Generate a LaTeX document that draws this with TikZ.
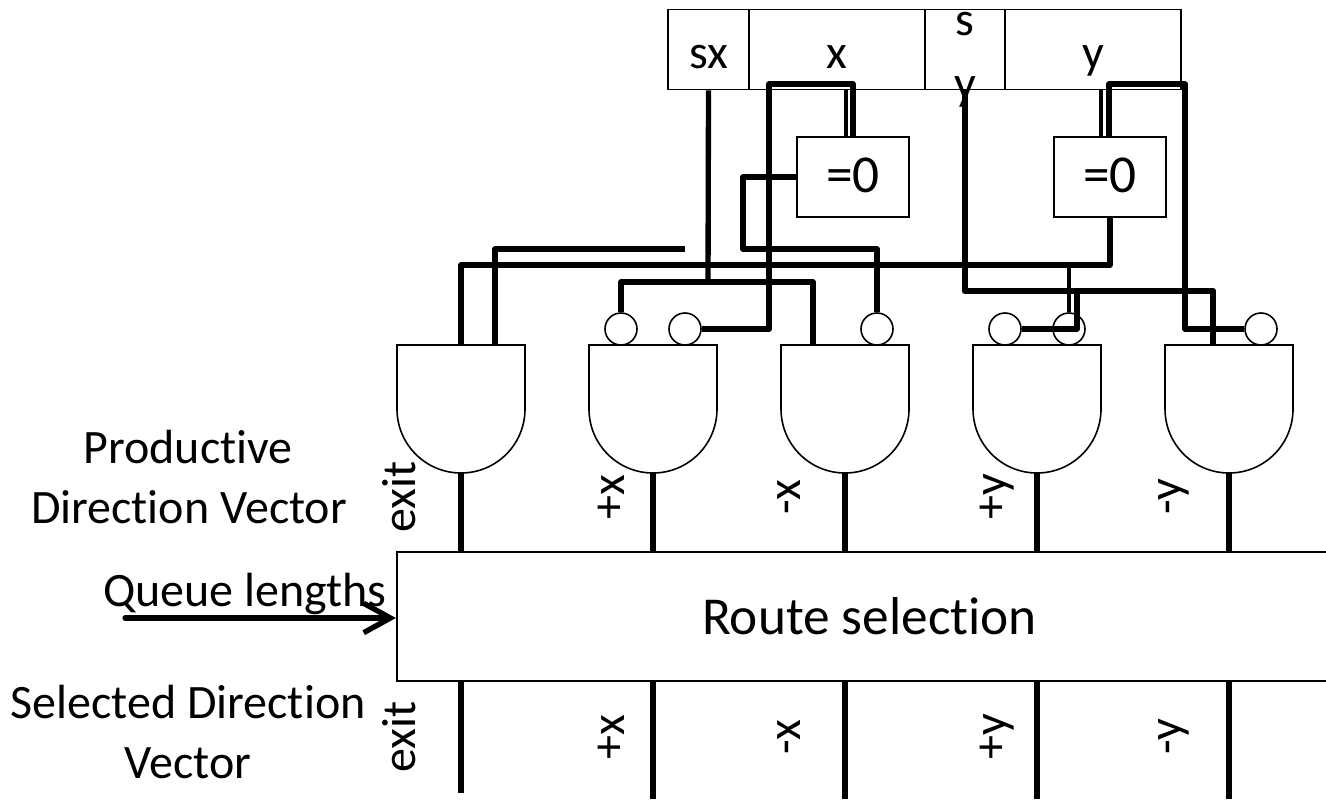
\documentclass[tikz,border=0pt]{standalone}
\usepackage{fontspec}
\setmainfont[Ligatures=NoCommon]{Carlito}
\usetikzlibrary{arrows.meta}
\tikzset{
  field/.style={draw,line width=1.4pt,minimum height=60pt,inner sep=0pt},
  zerobox/.style={draw,line width=1.4pt,minimum width=84pt,minimum height=60pt,inner sep=0pt,text depth=3pt,font=\fontsize{40}{45}\selectfont},
  bubble/.style={draw,circle,line width=1.2pt,minimum size=24pt,inner sep=0pt},
  wire/.style={line width=4pt,line join=round},
  thinwire/.style={line width=3.2pt,line join=round},
  fatwire/.style={line width=5pt,line join=round},
  gatebody/.style={line width=1.2pt},
  lab/.style={inner sep=0pt,align=center,anchor=base}
}
\begin{document}
\begin{tikzpicture}[x=.75pt,y=-.75pt,font=\fontsize{36}{45}\selectfont]
\useasboundingbox (0,0) rectangle (1326,799);
\node[field,minimum width=60.75pt] (fsx) at (708.5,49.5) {};
\node[field,minimum width=132pt] (fx) at (837,49.5) {};
\node[field,minimum width=60pt] (fsy) at (965,49.5) {};
\node[field,minimum width=132pt] (fy) at (1093,49.5) {};
\node[lab] (sxtxt) at (709,69) {sx};
\node[lab] (xtxt) at (837,69) {x};
\node[lab] (stxt) at (965,36) {s};
\node[lab] (ytxt) at (965,99) {y};
\node[lab] (yftxt) at (1093,69) {y};
\node[zerobox] (zx) at (853,177) {=0};
\node[zerobox] (zy) at (1110,177) {=0};
\node[field,minimum width=709pt,minimum height=96.75pt,font=\fontsize{40}{45}\selectfont] (route) at (869.5,616.5) {Route selection};
% gates
\foreach \n/\gx in {1/461,2/653,3/845,4/1037,5/1229}{
  \draw[gatebody] (\gx-64,345) coordinate (gt\n) -- (\gx-64,409) arc[start angle=180,end angle=0,radius=64] -- (\gx+64,345) -- cycle;
  \coordinate (gb\n) at (\gx,473);
  \draw[wire] (gb\n) -- (gb\n|-route.north);
}
\foreach \n/\gx in {2/653,3/845,4/1037,5/1229}{
  \coordinate (sv\n) at (\gx,799);
  \draw[wire] (route.south-|sv\n) -- (sv\n);
}
\coordinate (sv1) at (461,793);
\draw[wire] (route.south-|sv1) -- (sv1);
\node[bubble] (b2a) at (621,329) {};
\node[bubble] (b2b) at (685,329) {};
\node[bubble] (b3) at (877,329) {};
\node[bubble] (b4a) at (1005,329) {};
\node[bubble] (b4b) at (1069,329) {};
\node[bubble] (b5) at (1261,329) {};
% wires
\draw[wire] (fsx.south) -- (708,282);
\draw[wire] (b2a.north) -- (621,282) -- (813,282) -- (813,346);
\draw[thinwire] (fx.south-|846,0) -- (zx.north-|846,0);
\draw[wire] (zx.north-|853,0) -- (853,84) -- (769,84) -- (769,329) -- (b2b.east);
\draw[wire] (zx.west) -- (743,177) -- (743,249) -- (877,249) -- (b3.north);
\coordinate (stub) at (685,249);
\draw[wire] (495,346) -- (495,249) -- (stub);
\draw[wire] (zy.south-|1110,0) -- (1110,265) -- (461,265) -- (461,345);
\draw[thinwire] (fy.south-|1101,0) -- (zy.north-|1101,0);
\draw[wire] (zy.north-|1109,0) -- (1109,84) -- (1185,84) -- (1185,329) -- (b5.west);
\draw[fatwire] (fsy.south) -- (965,291) -- (1213,291) -- (1213,345);
\draw[thinwire] (1069,265) -- (b4b.north);
\draw[wire] (1077,291) -- (1077,329) -- (b4a.east);
% labels
\foreach \t/\lx/\ly in {exit/415/497,+x/624/497,-x/800/497,+y/1006/497,-y/1181/497,
                        exit/415/737,+x/624/737,-x/800/737,+y/1006/737,-y/1181/737}{
  \node[lab,rotate=90] (lb\lx\ly) at (\lx,\ly) {\t};
}
\node[lab] (pdv) at (188,463) {Productive};
\node[lab] (pdvb) at (189,523) {Direction Vector};
\node[lab] (sdv) at (188,718) {Selected Direction};
\node[lab] (sdvb) at (188,778) {Vector};
\node[lab] (qlen) at (245,606) {Queue lengths};
\coordinate (qin) at (125,618);
\draw[wire,-{Straight Barb[length=20pt,width=22pt]},line cap=round] (qin) -- (route.west|-qin);
\end{tikzpicture}
\end{document}
